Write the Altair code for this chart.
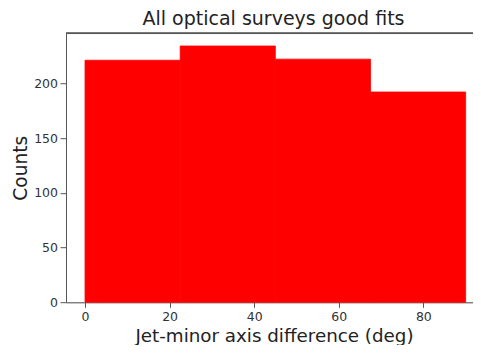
import altair as alt
import pandas as pd

bin_start = [0, 22.5, 45, 67.5]
bin_end = [22.5, 45, 67.5, 90]
counts = [221, 234, 222, 192]

x_ticks = [0, 20, 40, 60, 80]
y_ticks = [0, 50, 100, 150, 200]

chart_title = ["All optical surveys good fits"]

df = pd.DataFrame({"start": bin_start, "end": bin_end, "count": counts})
df_title = pd.DataFrame({"t": chart_title})

FONT = "DejaVu Sans"
AX = "#555555"
W = 407
H = 269.1

bars = alt.Chart(df).mark_rect(color="#ff0000", stroke="#ff0000", strokeWidth=0.8).encode(
    x=alt.X(
        "start:Q",
        scale=alt.Scale(domain=[-4.5, 91.74], nice=False, zero=False),
        axis=alt.Axis(
            values=x_ticks,
            title="Jet-minor axis difference (deg)",
            grid=False,
            tickSize=5,
            labelPadding=13.2,
            labelBaseline="alphabetic",
            labelFontSize=12.5,
            labelFont=FONT,
            labelColor="#333333",
            titleFont=FONT,
            titleFontSize=18.3,
            titleFontWeight="normal",
            titleColor="#222222",
            titleBaseline="alphabetic",
            titleX=208,
            titleY=38.7,
            domainColor=AX,
            tickColor=AX,
            labelFlush=False,
        ),
    ),
    x2="end:Q",
    y=alt.Y(
        "count:Q",
        scale=alt.Scale(domain=[0, 245.7], nice=False),
        axis=alt.Axis(
            values=y_ticks,
            title="Counts",
            grid=False,
            tickSize=6,
            labelPadding=2.5,
            labelFontSize=12.5,
            labelFont=FONT,
            labelColor="#333333",
            titleFont=FONT,
            titleFontSize=18.6,
            titleFontWeight="normal",
            titleColor="#222222",
            titleAngle=270,
            titleBaseline="alphabetic",
            titleX=-39.5,
            titleY=H / 2,
            domainColor=AX,
            tickColor=AX,
            labelFlush=False,
        ),
    ),
    y2=alt.datum(0),
)

top_spine = alt.Chart(df).mark_rule(color=AX, strokeWidth=1).encode(y=alt.value(0))

title_text = alt.Chart(df_title).mark_text(
    font=FONT,
    fontSize=19,
    color="#222222",
    align="center",
    baseline="alphabetic",
).encode(text="t:N", x=alt.value(207.5), y=alt.value(-8.2))

chart = (
    alt.layer(bars, top_spine, title_text)
    .properties(
        width=W,
        height=H,
        autosize=alt.AutoSizeParams(type="none"),
        padding={"left": 58, "top": 25.2, "right": 0, "bottom": 42.7},
    )
    .configure_view(stroke=None)
    .configure(background="white")
)

chart.save("out.html", embed_options={"renderer": "svg", "actions": False})
